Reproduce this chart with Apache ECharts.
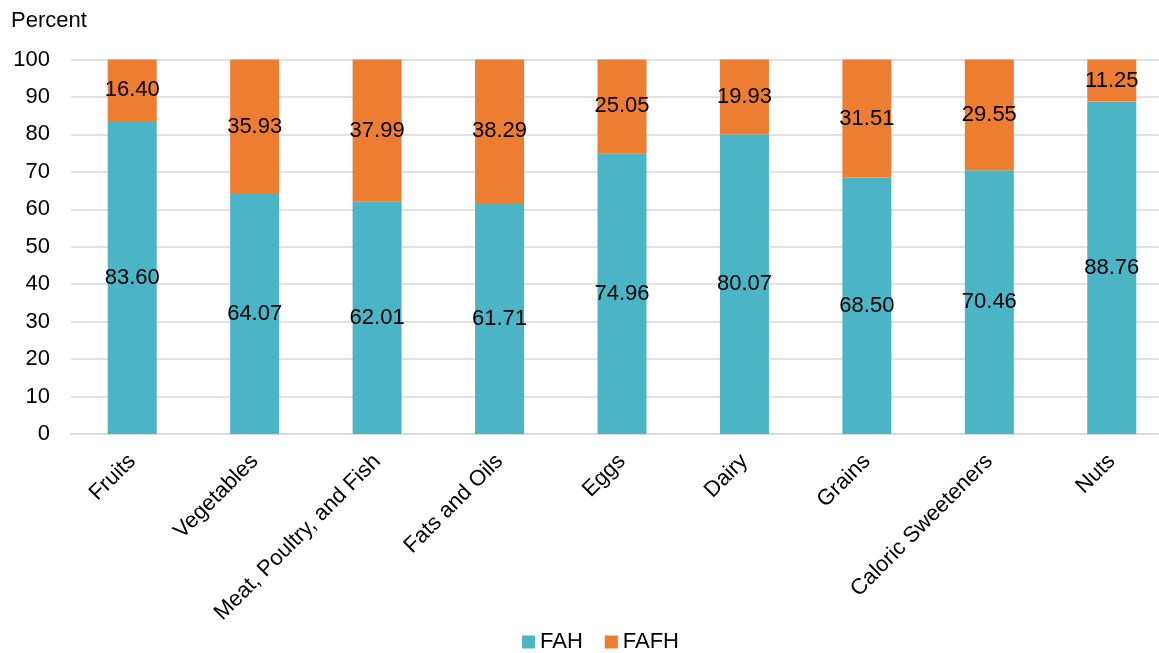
<!DOCTYPE html>
<html>
<head>
<meta charset="utf-8">
<script src="https://cdn.jsdelivr.net/npm/echarts@6/dist/echarts.min.js"></script>
<style>
  html, body { margin: 0; padding: 0; background: #ffffff; }
  #chart { width: 1159px; height: 653px; }
</style>
</head>
<body>
<div id="chart"></div>
<script>
// Food group shares of spending: at home (FAH) vs. away from home (FAFH)
const categories = ['Fruits', 'Vegetables', 'Meat, Poultry, and Fish', 'Fats and Oils', 'Eggs', 'Dairy', 'Grains', 'Caloric Sweeteners', 'Nuts'];
const fahValues = [83.60, 64.07, 62.01, 61.71, 74.96, 80.07, 68.50, 70.46, 88.76];
const fafhValues = [16.40, 35.93, 37.99, 38.29, 25.05, 19.93, 31.51, 29.55, 11.25];
const seriesNames = ['FAH', 'FAFH'];
const yTicks = { min: 0, max: 100, interval: 10 };

const FONT = '"Liberation Sans", Arial, sans-serif';
const FS = 22;
const chart = echarts.init(document.getElementById('chart'), null, { renderer: 'canvas' });

const labelStyle = {
  show: true,
  position: 'inside',
  color: '#000000',
  fontFamily: FONT,
  fontSize: FS,
  formatter: p => p.value.toFixed(2)
};

chart.setOption({
  animation: false,
  backgroundColor: '#ffffff',
  title: {
    text: 'Percent',
    left: 6,
    top: 5,
    textStyle: { fontFamily: FONT, fontSize: FS, fontWeight: 'normal', color: '#000000' }
  },
  legend: {
    data: seriesNames,
    left: 522,
    top: 631,
    padding: 0,
    itemWidth: 13,
    itemHeight: 13,
    itemGap: 22,
    icon: 'rect',
    textStyle: { fontFamily: FONT, fontSize: FS, color: '#000000' }
  },
  // the plot band runs a little past the right edge of the canvas
  grid: { left: 71, top: 59.5, width: 1102, height: 374.5, containLabel: false, outerBoundsMode: 'none' },
  xAxis: {
    type: 'category',
    data: categories,
    boundaryGap: true,
    axisLine: { show: true, lineStyle: { color: '#d9d9d9', width: 1.5 } },
    axisTick: { show: false },
    axisLabel: {
      interval: 0,
      rotate: 45,
      margin: 24,
      fontFamily: FONT,
      fontSize: FS,
      color: '#000000'
    }
  },
  yAxis: {
    type: 'value',
    min: yTicks.min,
    max: yTicks.max,
    interval: yTicks.interval,
    axisLine: { show: false },
    axisTick: { show: false },
    splitLine: { lineStyle: { color: '#d9d9d9', width: 1.5 } },
    axisLabel: { margin: 21, fontFamily: FONT, fontSize: FS, color: '#000000' }
  },
  series: [
    {
      name: seriesNames[0],
      type: 'bar',
      stack: 'total',
      barWidth: 49,
      data: fahValues,
      itemStyle: { color: '#4bb5c5' },
      label: labelStyle
    },
    {
      name: seriesNames[1],
      type: 'bar',
      stack: 'total',
      barWidth: 49,
      data: fafhValues,
      itemStyle: { color: '#ed7d31' },
      label: labelStyle
    }
  ]
});
</script>
</body>
</html>
